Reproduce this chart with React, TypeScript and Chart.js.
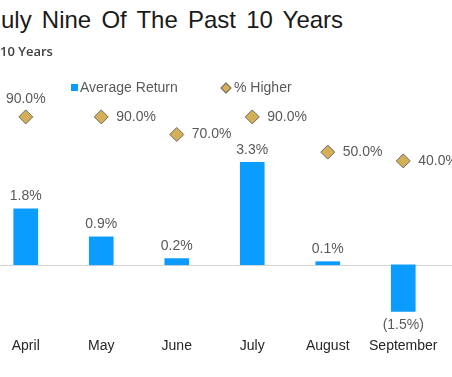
import React, { useEffect, useRef } from "react";
import { Chart, registerables } from "chart.js";

Chart.register(...registerables);

const TITLE = "uly Nine Of The Past 10 Years";
const SUBTITLE = "10 Years";
const MONTHS = ["April", "May", "June", "July", "August", "September"];
const AVERAGE_RETURN = [1.8, 0.9, 0.2, 3.3, 0.1, -1.5];
const PCT_HIGHER = [90, 90, 70, 90, 50, 40];
const SERIES_NAMES = ["Average Return", "% Higher"];

const BLUE = "#0A9CFF";
const GOLD = "#D4AF55";
const LABEL_GRAY = "#595959";
const FONT = "'Liberation Sans', Arial, sans-serif";

const fmtReturn = (v: number) =>
  v < 0 ? `(${Math.abs(v).toFixed(1)}%)` : `${v.toFixed(1)}%`;
const fmtPct = (v: number) => `${v.toFixed(1)}%`;

const zeroLinePlugin = {
  id: "zeroLine",
  beforeDatasetsDraw(chart: any) {
    const { ctx } = chart;
    const y = Math.round(chart.scales.y.getPixelForValue(0)) + 0.5;
    ctx.save();
    ctx.strokeStyle = "#d6d6d6";
    ctx.lineWidth = 1;
    ctx.beginPath();
    ctx.moveTo(0, y);
    ctx.lineTo(chart.width, y);
    ctx.stroke();
    ctx.restore();
  },
};

const labelPlugin = {
  id: "valueLabels",
  afterDatasetsDraw(chart: any) {
    const { ctx } = chart;
    ctx.save();
    ctx.font = `14px ${FONT}`;
    ctx.fillStyle = LABEL_GRAY;
    ctx.textBaseline = "middle";
    const barMeta = chart.getDatasetMeta(0);
    barMeta.data.forEach((el: any, i: number) => {
      const v = AVERAGE_RETURN[i];
      ctx.textAlign = "center";
      if (v >= 0) ctx.fillText(fmtReturn(v), el.x, el.y - 12.5);
      else ctx.fillText(fmtReturn(v), el.x, el.y + 14);
    });
    const lineMeta = chart.getDatasetMeta(1);
    lineMeta.data.forEach((el: any, i: number) => {
      const v = PCT_HIGHER[i];
      if (i === 0) {
        ctx.textAlign = "center";
        ctx.fillText(fmtPct(v), el.x, el.y - 17.5);
      } else {
        ctx.textAlign = "left";
        ctx.fillText(fmtPct(v), el.x + 15, el.y);
      }
    });
    ctx.restore();
  },
};

export default function App() {
  const ref = useRef<HTMLCanvasElement | null>(null);

  useEffect(() => {
    if (!ref.current) return;
    const chart = new Chart(ref.current, {
      type: "bar",
      data: {
        labels: MONTHS,
        datasets: [
          {
            type: "bar",
            label: SERIES_NAMES[0],
            data: AVERAGE_RETURN,
            backgroundColor: BLUE,
            barThickness: 24,
            yAxisID: "y",
            order: 2,
          },
          {
            type: "line",
            label: SERIES_NAMES[1],
            data: PCT_HIGHER,
            showLine: false,
            pointStyle: "rectRot",
            pointRadius: 7,
            pointBackgroundColor: GOLD,
            pointBorderColor: "#6b6b6b",
            pointBorderWidth: 1,
            yAxisID: "y1",
            order: 1,
          } as any,
        ],
      },
      options: {
        responsive: false,
        animation: false,
        layout: { autoPadding: false, padding: { top: 34, right: 11, left: 0, bottom: 0 } },
        plugins: {
          legend: { display: false },
          tooltip: { enabled: false },
        },
        scales: {
          x: {
            offset: true,
            grid: { display: false },
            border: { display: false },
            ticks: {
              color: "#262626",
              font: { family: FONT, size: 14 },
              padding: 0,
              maxRotation: 0,
              autoSkip: false,
            },
            afterFit: (s: any) => {
              s.height = 40;
              s.paddingLeft = 0;
              s.paddingRight = 0;
            },
          },
          y: {
            display: false,
            min: -2.1,
            max: 5.5,
          },
          y1: {
            display: false,
            min: -152,
            max: 116,
          },
        },
      },
      plugins: [zeroLinePlugin, labelPlugin],
    });
    return () => chart.destroy();
  }, []);

  const legendText: React.CSSProperties = {
    position: "absolute",
    top: 79,
    fontFamily: FONT,
    fontSize: 14,
    lineHeight: "16px",
    color: LABEL_GRAY,
    whiteSpace: "nowrap",
  };

  return (
    <div
      style={{
        position: "fixed",
        left: 0,
        top: 0,
        width: 452,
        height: 377,
        overflow: "hidden",
        background: "#fff",
      }}
    >
      <canvas
        ref={ref}
        width={464}
        height={310}
        style={{ position: "absolute", left: -12, top: 60, width: 464, height: 310 }}
      />
      <div
        style={{
          position: "absolute",
          left: 1,
          top: 6,
          fontFamily: FONT,
          fontSize: 24,
          lineHeight: "27px",
          wordSpacing: 3.5,
          color: "#1a1a1a",
          whiteSpace: "nowrap",
        }}
      >
        {TITLE}
      </div>
      <div
        style={{
          position: "absolute",
          left: 0,
          top: 43,
          fontFamily: "'Open Sans', sans-serif",
          fontWeight: 600,
          fontSize: 13,
          lineHeight: "16px",
          color: "#404040",
          whiteSpace: "nowrap",
        }}
      >
        {SUBTITLE}
      </div>
      <div style={{ position: "absolute", left: 71, top: 84, width: 7, height: 7, background: BLUE }} />
      <div style={{ ...legendText, left: 80 }}>{SERIES_NAMES[0]}</div>
      <div
        style={{
          position: "absolute",
          left: 222,
          top: 84,
          width: 6,
          height: 6,
          background: GOLD,
          border: "1px solid #6b6b6b",
          transform: "rotate(45deg)",
        }}
      />
      <div style={{ ...legendText, left: 234 }}>{SERIES_NAMES[1]}</div>
    </div>
  );
}
